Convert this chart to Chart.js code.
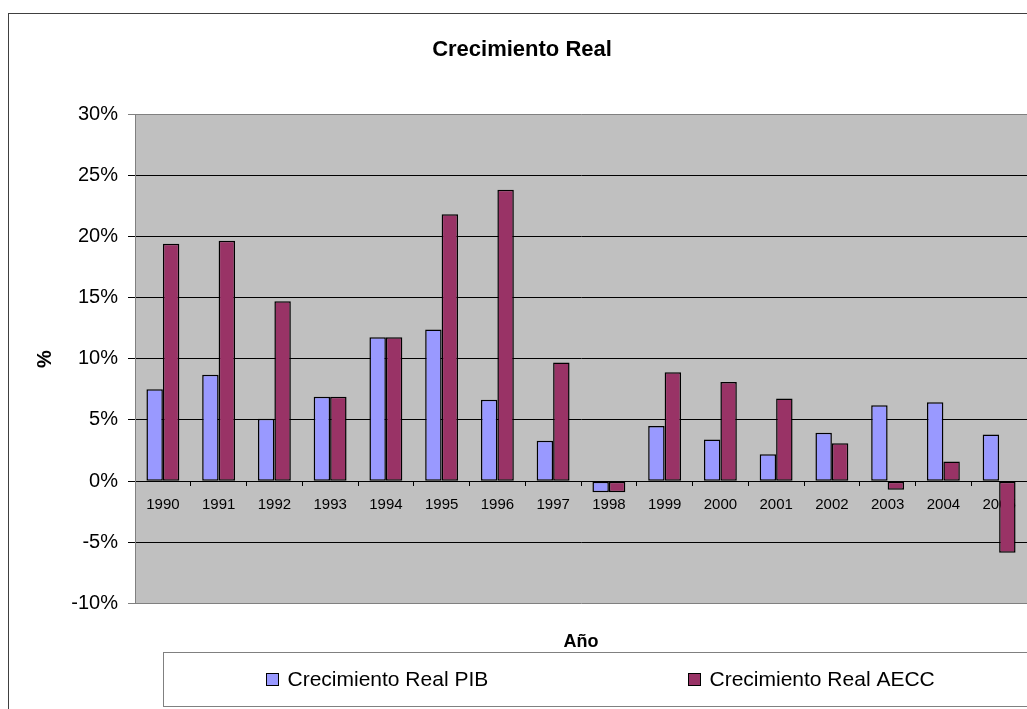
<!DOCTYPE html>
<html><head><meta charset="utf-8">
<script src="https://cdn.jsdelivr.net/npm/chart.js@4.4.1/dist/chart.umd.min.js"></script>
<style>html,body{margin:0;padding:0;background:#fff;overflow:hidden}canvas{display:block}</style>
</head><body>
<canvas id="c" width="1027" height="709"></canvas>
<script>
const years = ['1990','1991','1992','1993','1994','1995','1996','1997','1998','1999','2000','2001','2002','2003','2004','2005'];
const pibGrowth = [7.5, 8.7, 5.1, 6.9, 11.75, 12.4, 6.65, 3.3, -0.9, 4.5, 3.4, 2.2, 3.95, 6.2, 6.45, 3.8];
const aeccGrowth = [19.4, 19.65, 14.7, 6.9, 11.75, 21.8, 23.8, 9.7, -0.9, 8.9, 8.1, 6.75, 3.1, -0.7, 1.6, -5.85];
const yMin = -10, yMax = 30, yStep = 5;
const chartTitle = 'Crecimiento Real';
const xTitle = 'Año';
const yTitle = '%';
const seriesNames = ['Crecimiento Real PIB', 'Crecimiento Real AECC'];
const seriesColors = ['#9999FF', '#993366'];

const FONT = '"Liberation Sans", Arial, sans-serif';

const decor = {
  id: 'decor',
  beforeDraw(chart) {
    const ctx = chart.ctx, a = chart.chartArea;
    ctx.save();
    ctx.fillStyle = '#C0C0C0';
    ctx.fillRect(a.left, a.top, a.right - a.left, a.bottom - a.top);
    ctx.strokeStyle = '#404040';
    ctx.lineWidth = 1;
    ctx.strokeRect(8.5, 13.5, 1100, 800);
    ctx.restore();
  },
  afterDraw(chart) {
    const ctx = chart.ctx;
    ctx.save();
    ctx.fillStyle = '#000';
    ctx.textAlign = 'center';
    ctx.textBaseline = 'alphabetic';
    ctx.font = 'bold 22px ' + FONT;
    ctx.fillText(chartTitle, 522, 56);
    ctx.font = 'bold 18px ' + FONT;
    ctx.fillText(xTitle, 581, 647);
    ctx.save();
    ctx.translate(51, 359);
    ctx.rotate(-Math.PI / 2);
    ctx.font = 'bold 20px ' + FONT;
    ctx.fillText(yTitle, 0, 0);
    ctx.restore();
    ctx.fillStyle = '#fff';
    ctx.strokeStyle = '#808080';
    ctx.lineWidth = 1;
    ctx.fillRect(163.5, 652.5, 900, 54);
    ctx.strokeRect(163.5, 652.5, 900, 54);
    const lx = [266, 688];
    ctx.font = '21px ' + FONT;
    ctx.textAlign = 'left';
    chart.data.datasets.forEach((ds, i) => {
      ctx.fillStyle = ds.backgroundColor;
      ctx.fillRect(lx[i] + 0.5, 673.5, 12, 12);
      ctx.strokeStyle = '#000';
      ctx.strokeRect(lx[i] + 0.5, 673.5, 12, 12);
      ctx.fillStyle = '#000';
      ctx.fillText(ds.label, lx[i] + 21.5, 686);
    });
    ctx.restore();
  }
};

new Chart(document.getElementById('c'), {
  type: 'bar',
  data: {
    labels: years,
    datasets: [
      { label: seriesNames[0], data: pibGrowth, backgroundColor: seriesColors[0], borderColor: '#000', borderWidth: 1.5, borderSkipped: false },
      { label: seriesNames[1], data: aeccGrowth, backgroundColor: seriesColors[1], borderColor: '#000', borderWidth: 1.5, borderSkipped: false }
    ]
  },
  options: {
    responsive: false,
    animation: false,
    events: [],
    categoryPercentage: 0.59,
    barPercentage: 1,
    layout: { padding: { left: 0, right: 0, top: 114, bottom: 105.5 } },
    plugins: { legend: { display: false }, title: { display: false }, tooltip: { enabled: false } },
    scales: {
      x: {
        position: { y: 0 },
        offset: true,
        grid: { offset: true, drawOnChartArea: false, drawTicks: true, tickLength: 4, color: '#000' },
        border: { display: true, color: '#000', width: 1 },
        ticks: { color: '#000', font: { family: FONT, size: 15 }, padding: 11, autoSkip: false, maxRotation: 0, minRotation: 0 }
      },
      y: {
        min: yMin, max: yMax,
        afterFit(scale) { scale.width = 135; },
        grid: {
          color: (c) => (c.tick && (c.tick.value === yMax || c.tick.value === yMin)) ? '#808080' : '#000',
          tickLength: 7, drawTicks: true
        },
        border: { display: true, color: '#808080', width: 1 },
        ticks: { stepSize: yStep, color: '#000', padding: 10, font: { family: FONT, size: 20 }, callback: (v) => v + '%' }
      }
    }
  },
  plugins: [decor]
});
</script>
</body></html>
